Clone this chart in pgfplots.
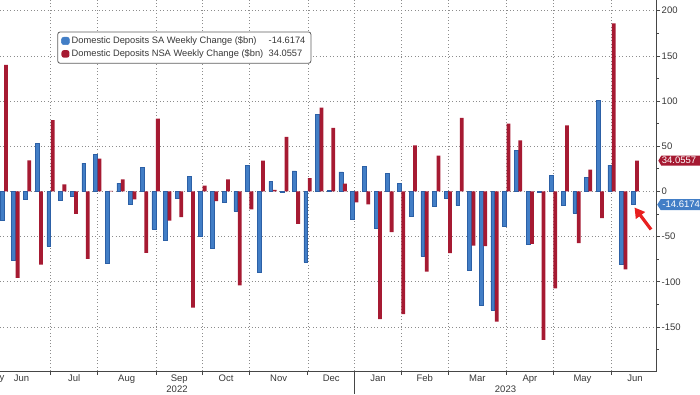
\documentclass[border=0pt]{standalone}
\usepackage{pgfplots}
\pgfplotsset{compat=1.18}
\usepackage{pgfplotstable}
\usepackage{fontspec}
\setmainfont{Liberation Sans}
\usetikzlibrary{arrows.meta}

\definecolor{sablue}{RGB}{66,126,198}
\definecolor{sablueedge}{RGB}{44,96,166}
\definecolor{nsared}{RGB}{166,26,50}
\definecolor{gridgray}{RGB}{140,140,140}
\definecolor{axisgray}{RGB}{70,70,70}
\definecolor{txt}{RGB}{55,55,55}
\definecolor{legendgray}{RGB}{95,95,95}
\definecolor{arrowred}{RGB}{232,32,32}

\pgfplotstableread{
w sa nsa
1 -32 140
2 -76.5 -95.7
3 -8.9 34.4
4 52.9 -81
5 -60.6 78.8
6 -10 7.8
7 -5.5 -24.8
8 31.4 -74.7
9 40.7 36.2
10 -79.1 0.5
11 9.2 13.3
12 -13.7 -8.9
13 27 -68
14 -41.4 80.6
15 -54.4 -32.2
16 -7.4 -28.5
17 17 -128.7
18 -49.9 6.3
19 -62.9 -10.7
20 -11.8 13.3
21 -22.2 -104
22 29.2 -20
23 -89.5 34
24 11 1.8
25 -0.8 60.3
26 22.6 -35.9
27 -78.4 14.8
28 85.4 92.8
29 1 70.3
30 21.5 8.5
31 -30.3 -12.2
32 27.7 -14.4
33 -40.7 -141.3
34 20.3 -45.1
35 8.9 -135.7
36 -27.4 51
37 -71.7 -88.7
38 -16.3 39.5
39 -7.8 -68.4
40 -15.5 81.3
41 -87.6 -59.9
42 -125.7 -60.6
43 -131.3 -144.2
44 -38.5 75.1
45 45.5 56.6
46 -58 -58
47 -0.8 -164.2
48 17.7 -107.2
49 -15.5 73.2
50 -24 -57.3
51 15.9 24
52 101 -29.6
53 29.2 186
54 -80.2 -86.2
55 -14.6174 34.0557
}\datatable

\begin{document}
\begin{tikzpicture}[font=\fontsize{9.5}{11}\selectfont]
\useasboundingbox (0,0) rectangle (700pt,394pt);
\begin{axis}[
  at={(0pt,23pt)}, anchor=south west,
  scale only axis, width=656.7pt, height=371pt,
  xmin=0.662, xmax=56.85, ymin=-198.7, ymax=211.8,
  axis x line*=bottom, axis y line*=right,
  axis line style={draw=axisgray, line width=0.8pt, -},
  clip=false,
  xtick={5,9,14,18,22,27,31,35,39,44,48,53},
  xticklabels={},
  extra x ticks={2.5,7,11.5,16,20,24.5,29,33,37,41.5,46,50.5,55},
  extra x tick labels={Jun,Jul,Aug,Sep,Oct,Nov,Dec,Jan,Feb,Mar,Apr,May,Jun},
  extra x tick style={grid=none, major tick length=0pt},
  ytick={-150,-100,-50,0,50,100,150,200},
  yticklabels={-150,-100,-50,0,50,100,150,200},
  minor ytick={-175,-125,-75,-25,25,75,125,175},
  tick align=outside,
  major tick length=3.5pt, minor tick length=2pt,
  tick style={draw=axisgray, line width=0.7pt},
  xmajorgrids, ymajorgrids,
  major grid style={draw=gridgray, line width=0.6pt, dash pattern=on 0.8pt off 2.6pt},
  yticklabel style={anchor=west, text=txt, xshift=-2pt},
  xticklabel style={text=txt},
  legend style={at={(0.0873,0.915)}, anchor=north west, draw=legendgray, line width=0.8pt,
    rounded corners=2.5pt, fill=white, font=\fontsize{9.3}{11}\selectfont, text=txt,
    inner xsep=3.5pt, inner ysep=3pt, row sep=0.6pt},
  legend cell align=left,
]
\addplot[ybar, bar width=3.8pt, bar shift=-2pt, fill=sablue, draw=sablueedge, line width=0.5pt,
  legend image code/.code={\fill[sablue] (0pt,-3.6pt) rectangle (8pt,4pt);}]
  table[x=w, y=sa] {\datatable};
\addlegendentry{\makebox[197pt][l]{Domestic Deposits SA Weekly Change (\$bn)}-14.6174}
\addplot[ybar, bar width=3.8pt, bar shift=2pt, fill=nsared, draw=none,
  legend image code/.code={\fill[nsared] (0pt,-3.6pt) rectangle (8pt,4pt);}]
  table[x=w, y=nsa] {\datatable};
\addlegendentry{\makebox[197pt][l]{Domestic Deposits NSA Weekly Change (\$bn)}34.0557}
\coordinate (vr) at (axis cs:56.85,34.0557);
\coordinate (vb) at (axis cs:56.85,-14.6174);
\coordinate (yr) at (axis cs:31,-198.7);
\end{axis}
% value tags on right axis
\fill[nsared] ([xshift=1.6pt]vr) -- ++(3pt,5pt) -- ++(60pt,0) -- ++(0,-10pt) -- ++(-60pt,0) -- cycle;
\node[anchor=west, text=white, inner sep=0pt] at ([xshift=5pt]vr) {34.0557};
\fill[sablue] ([xshift=0.5pt]vb) -- ++(3.5pt,5.5pt) -- ++(60pt,0) -- ++(0,-11pt) -- ++(-60pt,0) -- cycle;
\node[anchor=west, text=white, inner sep=0pt] at ([xshift=5.5pt]vb) {-14.6174};
% year separator and labels
\draw[axisgray, line width=0.7pt] (yr) -- ++(0,-23pt);
\node[text=txt] at (177pt,5pt) {2022};
\node[text=txt] at (505.5pt,5pt) {2023};
\node[text=txt, anchor=east, inner sep=0pt] at (4.5pt,16pt) {May};
% annotation arrow
\draw[line width=3.2pt, draw=arrowred, -{Triangle[length=10pt,width=11pt]}] (651pt,164.5pt) -- (634.5pt,186.5pt);
\end{tikzpicture}
\end{document}
